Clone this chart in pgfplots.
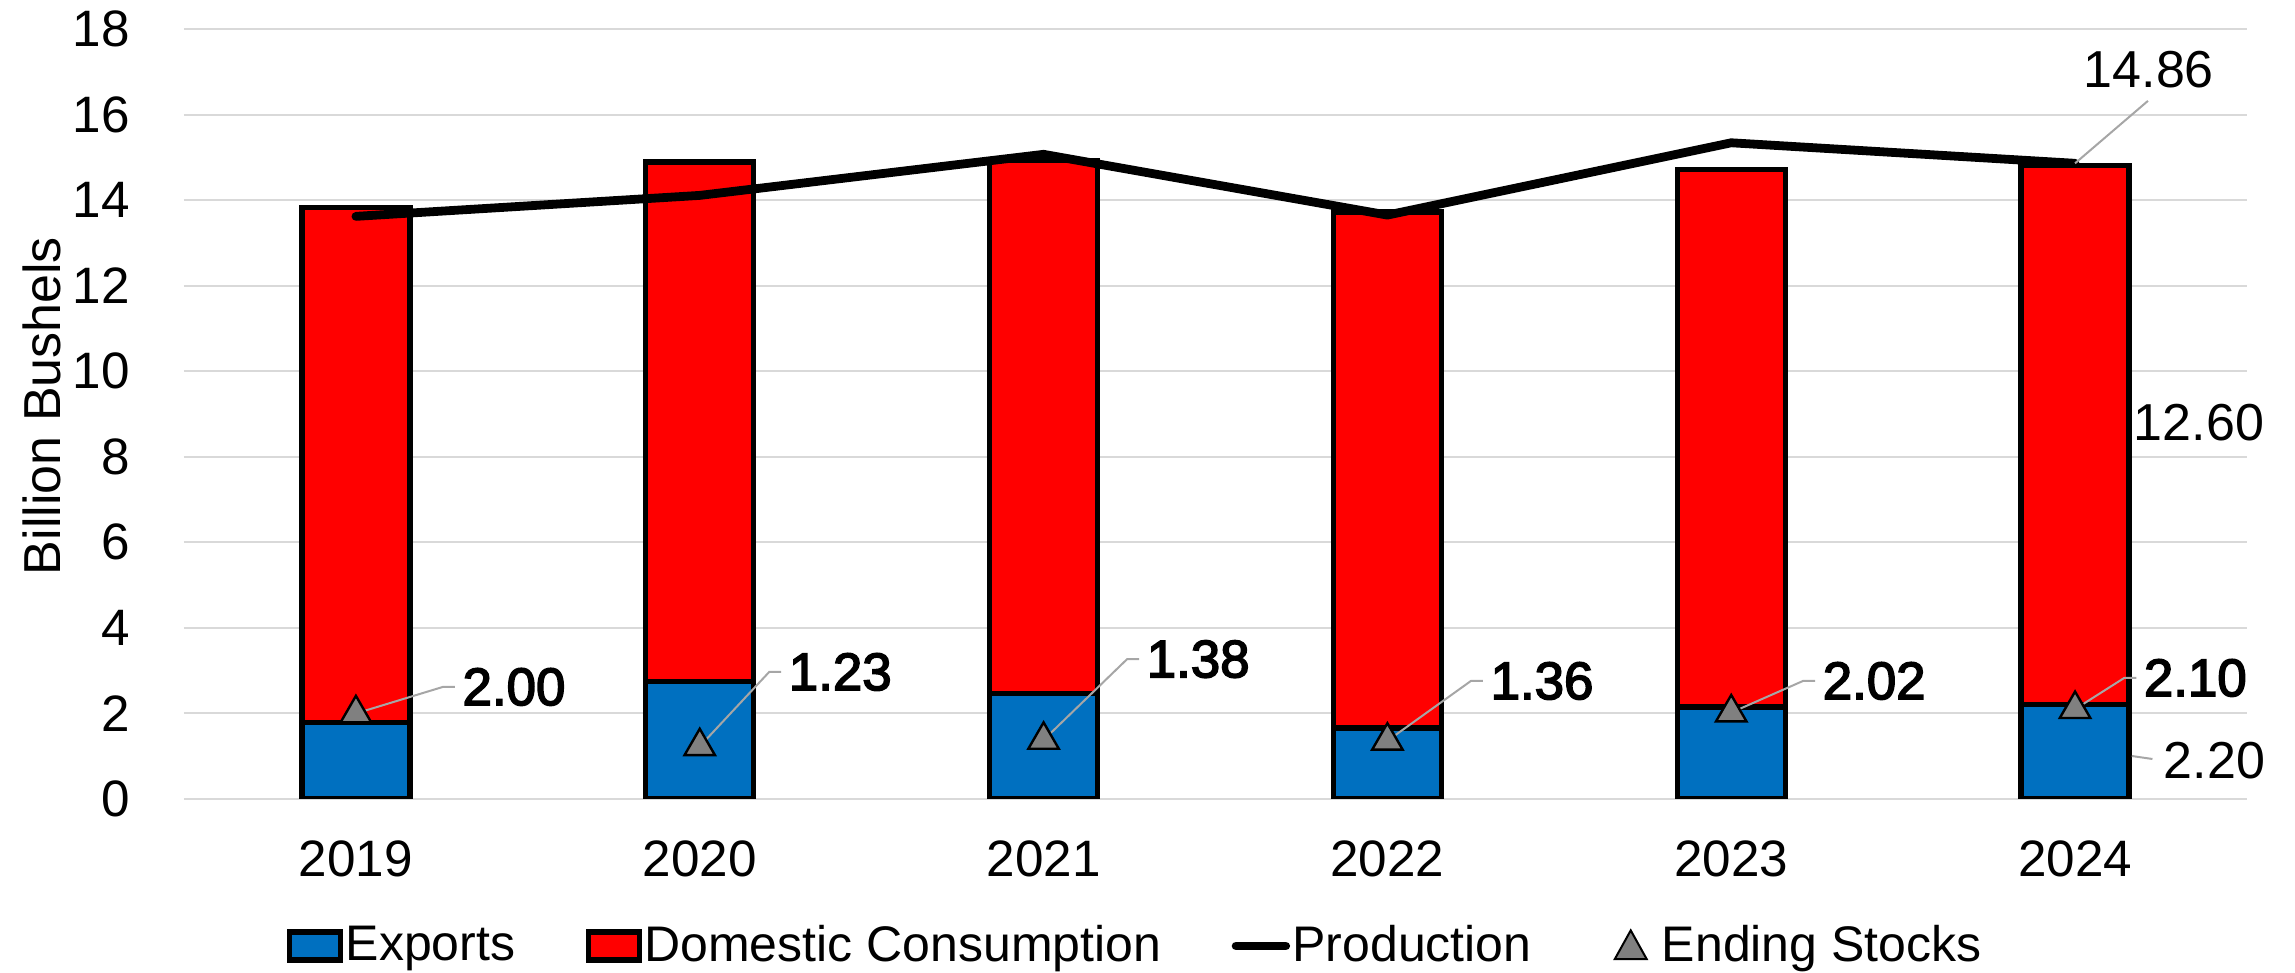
\documentclass[border=0pt]{standalone}
\usepackage{pgfplots}
\pgfplotsset{compat=1.18}
\usepackage{fontspec}
\setmainfont{Liberation Sans}
\newfontfamily\medfont[FakeBold=3]{Liberation Sans}
\definecolor{expblue}{RGB}{0,112,192}
\definecolor{domred}{RGB}{255,0,0}
\definecolor{stockgray}{RGB}{128,128,128}
\definecolor{gridgray}{RGB}{217,217,217}
\definecolor{leadergray}{RGB}{166,166,166}
\pgfplotsset{base/.style={width=515.75pt,height=192.5pt,scale only axis,
  xmin=-0.5,xmax=5.5,ymin=0,ymax=18}}
\tikzset{
  lbl/.style={font=\medfont\fontsize{13.2}{15}\selectfont,anchor=west,inner sep=0pt},
  lblr/.style={font=\fontsize{13}{15}\selectfont,anchor=west,inner sep=0pt},
  leader/.style={leadergray,line width=0.5pt}}
\begin{document}
\begin{tikzpicture}
\path[use as bounding box] (-46pt,-43.5pt) rectangle (527.75pt,199.75pt);
\begin{axis}[base, ybar stacked, bar width=27pt,
  axis line style={draw=none}, major tick style={draw=none},
  ytick={0,2,...,18}, ymajorgrids, grid style={gridgray,line width=0.5pt},
  xtick={0,...,5}, xticklabels={2019,2020,2021,2022,2023,2024},
  ticklabel style={font=\fontsize{12.8}{15}\selectfont},
  /pgf/number format/assume math mode=true,
  yticklabel style={xshift=-10pt},
  xticklabel style={yshift=-7pt},
  ylabel={Billion Bushels},
  ylabel style={at={(axis description cs:-0.0688,0.5104)},anchor=center,font=\fontsize{13}{15}\selectfont},
]
\addplot[fill=expblue,draw=black,line width=1.3pt] coordinates {(0,1.78) (1,2.75) (2,2.47) (3,1.66) (4,2.15) (5,2.20)};
\addplot[fill=domred,draw=black,line width=1.3pt] coordinates {(0,12.05) (1,12.14) (2,12.45) (3,12.06) (4,12.57) (5,12.60)};
\end{axis}
\begin{axis}[base, hide axis, clip=false, legend columns=4,
  legend style={at={(axis description cs:0.0499,-0.1909)},anchor=west,draw=none,fill=none,
    inner sep=0pt,outer sep=0pt,font=\fontsize{12.5}{14}\selectfont,column sep=0pt,
    nodes={inner sep=0.6pt},
    /tikz/every even column/.append style={column sep=17pt}},
]
\addlegendimage{legend image code/.code={\draw[fill=expblue,draw=black,line width=1.3pt] (0.6pt,-3.5pt) rectangle (13.4pt,3.5pt);}}
\addlegendentry{Exports}
\addlegendimage{legend image code/.code={\draw[fill=domred,draw=black,line width=1.3pt] (0.6pt,-3.5pt) rectangle (13.4pt,3.5pt);}}
\addlegendentry{Domestic Consumption}
\addplot[black,line width=2.2pt,line cap=round,line join=round,mark=none,
  legend image code/.code={\draw[black,line width=2.2pt,line cap=round] (0.6pt,0pt) -- (13pt,0pt);}]
  coordinates {(0,13.62) (1,14.11) (2,15.07) (3,13.65) (4,15.34) (5,14.86)};
\addlegendentry{Production}
\addplot[only marks,mark=triangle*,mark size=4.4pt,
  mark options={fill=stockgray,draw=black,line width=0.6pt},
  legend image code/.code={\path (0pt,0pt) (14pt,0pt);\draw[fill=stockgray,draw=black,line width=0.5pt] (3pt,-3.3pt) -- (11pt,-3.3pt) -- (7pt,3.9pt) -- cycle;}]
  coordinates {(0,2.00) (1,1.23) (2,1.38) (3,1.36) (4,2.02) (5,2.10)};
\addlegendentry{Ending Stocks}
% data labels with leader lines
\draw[leader] (axis cs:0,2.00) -- (axis cs:0.253,2.62) -- (axis cs:0.288,2.62);
\node[lbl] at (axis cs:0.308,2.62) {2.00};
\draw[leader] (axis cs:1,1.23) -- (axis cs:1.202,2.97) -- (axis cs:1.237,2.97);
\node[lbl] at (axis cs:1.257,2.97) {1.23};
\draw[leader] (axis cs:2,1.38) -- (axis cs:2.243,3.27) -- (axis cs:2.278,3.27);
\node[lbl] at (axis cs:2.298,3.27) {1.38};
\draw[leader] (axis cs:3,1.36) -- (axis cs:3.243,2.76) -- (axis cs:3.278,2.76);
\node[lbl] at (axis cs:3.298,2.76) {1.36};
\draw[leader] (axis cs:4,2.02) -- (axis cs:4.209,2.76) -- (axis cs:4.244,2.76);
\node[lbl] at (axis cs:4.264,2.76) {2.02};
\draw[leader] (axis cs:5,2.10) -- (axis cs:5.143,2.83) -- (axis cs:5.178,2.83);
\node[lbl] at (axis cs:5.198,2.83) {2.10};
\draw[leader] (axis cs:5.165,1.005) -- (axis cs:5.225,0.935);
\node[lblr] at (axis cs:5.256,0.89) {2.20};
\node[lblr] at (axis cs:5.169,8.79) {12.60};
\draw[leader] (axis cs:5,14.86) -- (axis cs:5.212,16.32);
\node[lblr] at (axis cs:5.023,17.04) {14.86};
\end{axis}
\end{tikzpicture}
\end{document}
